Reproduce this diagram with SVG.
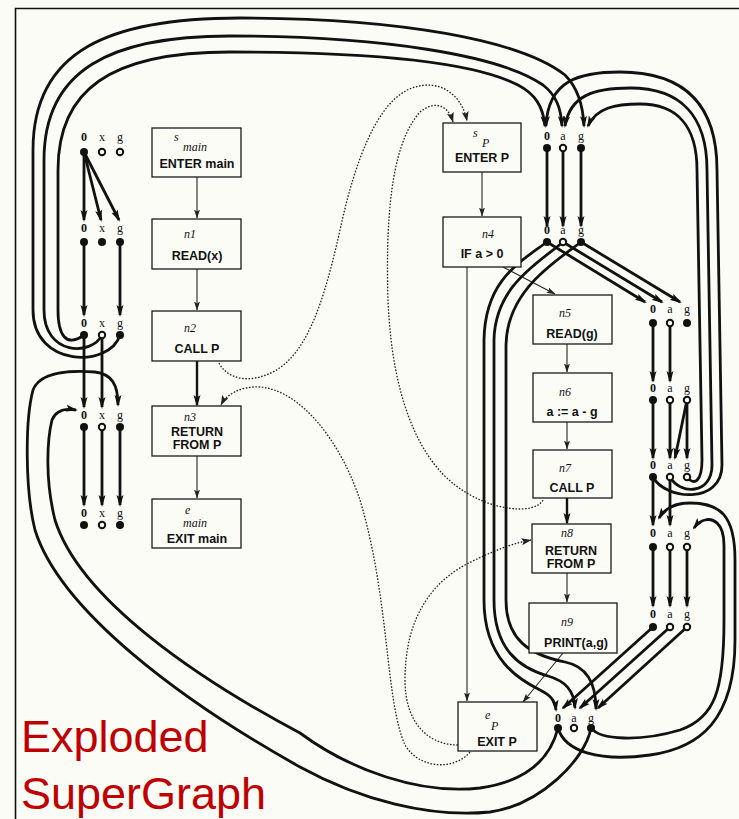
<svg xmlns="http://www.w3.org/2000/svg" width="739" height="819" viewBox="0 0 739 819">
<style>
.bg{fill:#fcfcf7}
.box{fill:#fcfcf7;stroke:#1a1a1a;stroke-width:1.3}
.bt{font-family:"Liberation Sans",Arial,sans-serif;font-weight:bold;font-size:12.5px;fill:#111;text-anchor:middle}
.it{font-family:"Liberation Serif","Times New Roman",serif;font-style:italic;font-size:12px;fill:#111}
.lb{font-family:"Liberation Serif","Times New Roman",serif;font-size:12px;fill:#111;text-anchor:middle}
.z{font-weight:bold}
.f{fill:#111}
.h{fill:#fcfcf7;stroke:#111;stroke-width:2}
.tk{fill:none;stroke:#111;stroke-width:2.8;marker-end:url(#ah)}
.tn{fill:none;stroke:#222;stroke-width:1.1;marker-end:url(#as)}
.tb{fill:none;stroke:#111;stroke-width:2.4;marker-end:url(#ah)}
.dt{fill:none;stroke:#222;stroke-width:1.3;stroke-dasharray:1.6 1.6;marker-end:url(#ad)}
.cap{font-family:"Liberation Sans",Arial,sans-serif;font-size:45px;fill:#c00000}
</style>
<defs>
<marker id="ah" viewBox="0 0 12 8" refX="10" refY="4" markerWidth="12" markerHeight="8" markerUnits="userSpaceOnUse" orient="auto"><path d="M0,0.5 L12,4 L0,7.5 L2.5,4z" fill="#111"/></marker>
<marker id="as" viewBox="0 0 9 6" refX="8.5" refY="3" markerWidth="9" markerHeight="6" markerUnits="userSpaceOnUse" orient="auto"><path d="M0,0 L9,3 L0,6 L2,3z" fill="#222"/></marker>
<marker id="ad" viewBox="0 0 10 7" refX="9.5" refY="3.5" markerWidth="10" markerHeight="7" markerUnits="userSpaceOnUse" orient="auto"><path d="M0,0 L10,3.5 L0,7 L2,3.5z" fill="#222"/></marker>
</defs>
<rect class="bg" x="0" y="0" width="739" height="819"/>
<path d="M15.5,819 L15.5,8.5 L739,8.5" fill="none" stroke="#111" stroke-width="1.6"/>

<g id="connectors">
<path class="tn" d="M197,177 L197,218"/>
<path class="tn" d="M197,269 L197,310"/>
<path class="tb" d="M197,361 L197,405"/>
<path class="tn" d="M197,456 L197,498"/>
<path class="tn" d="M482,172 L482,216"/>
<path class="tn" d="M503,267 L555,294"/>
<path class="tn" d="M467,267 L467,701"/>
<path class="tn" d="M567,344 L567,372"/>
<path class="tn" d="M567,422 L567,449"/>
<path class="tb" d="M567,498 L567,523"/>
<path class="tn" d="M567,573 L567,602"/>
<path class="tn" d="M563,653 L523,702"/>
<path class="dt" d="M219,363 C225,375 240,381 255,378 C300,370 320,320 340,230 C355,160 378,100 412,88 C440,78 462,95 467,121"/>
<path class="dt" d="M543,500 C535,515 490,512 455,485 C420,458 392,400 388,300 C385,200 395,140 420,112 C435,100 448,105 453,122"/>
<path class="dt" d="M470,752 C455,770 420,770 405,745 C385,700 390,600 360,500 C340,440 300,390 260,387 C240,386 226,395 221,405"/>
<path class="dt" d="M458,745 C430,745 405,725 405,680 C405,620 430,580 475,560 C500,548 515,543 531,540"/>
<path class="tk" d="M84,152 L84,220"/>
<path class="tk" d="M84,152 L101,220"/>
<path class="tk" d="M84,152 L119,220"/>
<path class="tk" d="M84,242 L84,315"/>
<path class="tk" d="M120,242 L120,315"/>
<path class="tk" d="M84,335 L84,407"/>
<path class="tk" d="M102,335 L102,407"/>
<path class="tk" d="M84,427 L84,505"/>
<path class="tk" d="M102,427 L102,505"/>
<path class="tk" d="M120,427 L120,505"/>
<path class="tk" d="M84,335 C66,348 58,335 58,310 L58,170 C58,90 110,52 230,52 C360,52 470,60 518,85 C535,94 543,106 545,126"/>
<path class="tk" d="M102,335 C92,356 44,356 44,310 L44,160 C44,70 110,36 230,36 C380,36 500,55 543,85 C556,95 561,108 562,126"/>
<path class="tk" d="M120,335 C110,368 33,368 33,310 L33,150 C33,50 110,18 240,18 C400,18 520,40 565,75 C578,88 583,105 584,126"/>
<path class="tk" d="M547,148 L547,226"/>
<path class="tk" d="M563,148 L563,226"/>
<path class="tk" d="M581,148 L581,226"/>
<path class="tk" d="M547,242 L645,302"/>
<path class="tk" d="M563,242 L662,302"/>
<path class="tk" d="M581,242 L680,302"/>
<path class="tk" d="M547,242 C520,262 485,280 484,340 L484,600 C484,660 520,680 540,690 C550,695 555,700 556,710"/>
<path class="tk" d="M563,242 C540,262 495,285 494,340 L494,600 C494,650 520,668 548,676 C565,681 574,690 575,708"/>
<path class="tk" d="M581,242 C555,262 507,290 506,345 L506,600 C506,640 530,655 565,662 C585,666 596,680 596,709"/>
<path class="tk" d="M653,323 L653,381"/>
<path class="tk" d="M670,323 L670,381"/>
<path class="tk" d="M653,400 L653,458"/>
<path class="tk" d="M670,400 L670,458"/>
<path class="tk" d="M687,400 L675,458"/>
<path class="tk" d="M687,400 L687,458"/>
<path class="tk" d="M653,477 L653,525"/>
<path class="tk" d="M670,477 L670,525"/>
<path class="tk" d="M653,547 L653,606"/>
<path class="tk" d="M670,547 L670,606"/>
<path class="tk" d="M687,547 L687,606"/>
<path class="tk" d="M653,627 L563,708"/>
<path class="tk" d="M670,627 L580,708"/>
<path class="tk" d="M687,627 L598,708"/>
<path class="tk" d="M653,477 C665,500 722,505 722,465 L717,170 C717,110 690,72 620,72 C580,72 548,80 546,126"/>
<path class="tk" d="M670,477 C680,495 712,495 712,465 L707,170 C707,115 680,88 630,88 C595,88 570,95 565,126"/>
<path class="tk" d="M687,477 C694,486 702,482 702,460 L697,170 C697,125 676,104 640,104 C615,104 596,108 588,126"/>
<path class="tk" d="M558,728 C565,752 600,762 650,755 C700,748 735,720 735,640 L735,560 C735,515 720,503 690,503 C675,503 665,508 659,518"/>
<path class="tk" d="M591,728 C600,740 640,742 680,730 C715,718 724,690 724,620 L724,545 C724,522 712,518 705,520 C700,521 697,524 694,528"/>
<path class="tk" d="M558,728 C552,752 535,780 480,788 C420,795 350,770 300,733 C200,680 80,600 55,520 C45,480 47,440 52,420 C56,410 65,408 76,410"/>
<path class="tk" d="M591,728 C585,760 540,805 490,812 C430,818 360,800 300,767 C180,700 60,610 35,530 C25,490 25,420 33,390 C40,372 70,370 95,372 C112,374 118,385 118,405"/>
</g>

<g id="smain"><rect class="box" x="152" y="128" width="89" height="49"/><text class="it" x="174" y="141">s</text><text class="it" x="183" y="151">main</text><text class="bt" x="197" y="168">ENTER main</text></g>
<g id="n1"><rect class="box" x="152" y="219" width="89" height="50"/><text class="it" x="184" y="238">n1</text><text class="bt" x="197" y="260">READ(x)</text></g>
<g id="n2"><rect class="box" x="152" y="311" width="89" height="50"/><text class="it" x="184" y="332">n2</text><text class="bt" x="197" y="353">CALL P</text></g>
<g id="n3"><rect class="box" x="152" y="406" width="89" height="50"/><text class="it" x="184" y="421">n3</text><text class="bt" x="197" y="436">RETURN</text><text class="bt" x="197" y="449">FROM P</text></g>
<g id="emain"><rect class="box" x="152" y="499" width="89" height="49"/><text class="it" x="185" y="514">e</text><text class="it" x="183" y="527">main</text><text class="bt" x="197" y="543">EXIT main</text></g>

<g id="sP"><rect class="box" x="443" y="123" width="78" height="49"/><text class="it" x="473" y="137">s</text><text class="it" x="482" y="147" font-size="14">P</text><text class="bt" x="482" y="162">ENTER P</text></g>
<g id="n4"><rect class="box" x="443" y="217" width="78" height="50"/><text class="it" x="482" y="238">n4</text><text class="bt" x="482" y="258">IF a &gt; 0</text></g>
<g id="n5"><rect class="box" x="533" y="295" width="79" height="49"/><text class="it" x="559" y="317">n5</text><text class="bt" x="572" y="338">READ(g)</text></g>
<g id="n6"><rect class="box" x="533" y="373" width="79" height="49"/><text class="it" x="559" y="396">n6</text><text class="bt" x="572" y="416">a := a - g</text></g>
<g id="n7"><rect class="box" x="533" y="450" width="79" height="48"/><text class="it" x="559" y="472">n7</text><text class="bt" x="572" y="492">CALL P</text></g>
<g id="n8"><rect class="box" x="532" y="524" width="79" height="49"/><text class="it" x="561" y="537">n8</text><text class="bt" x="571" y="555">RETURN</text><text class="bt" x="571" y="568">FROM P</text></g>
<g id="n9"><rect class="box" x="529" y="603" width="88" height="50"/><text class="it" x="561" y="626">n9</text><text class="bt" x="576" y="647">PRINT(a,g)</text></g>
<g id="eP"><rect class="box" x="458" y="702" width="79" height="49"/><text class="it" x="485" y="719">e</text><text class="it" x="491" y="730" font-size="14">P</text><text class="bt" x="497" y="746">EXIT P</text></g>

<g id="x-smain"><text class="lb z" x="84" y="141">0</text><text class="lb" x="102" y="141">x</text><text class="lb" x="120" y="141">g</text><circle class="f" cx="84" cy="152" r="4"/><circle class="h" cx="102" cy="152" r="3.2"/><circle class="h" cx="120" cy="152" r="3.2"/></g>
<g id="x-n1"><text class="lb z" x="84" y="232">0</text><text class="lb" x="102" y="232">x</text><text class="lb" x="120" y="232">g</text><circle class="f" cx="84" cy="242" r="4"/><circle class="f" cx="102" cy="242" r="4"/><circle class="f" cx="120" cy="242" r="4"/></g>
<g id="x-n2"><text class="lb z" x="84" y="327">0</text><text class="lb" x="102" y="327">x</text><text class="lb" x="120" y="327">g</text><circle class="f" cx="84" cy="335" r="4"/><circle class="h" cx="102" cy="335" r="3.2"/><circle class="f" cx="120" cy="335" r="4"/></g>
<g id="x-n3"><text class="lb z" x="84" y="419">0</text><text class="lb" x="102" y="419">x</text><text class="lb" x="120" y="419">g</text><circle class="f" cx="84" cy="427" r="4"/><circle class="h" cx="102" cy="427" r="3.2"/><circle class="f" cx="120" cy="427" r="4"/></g>
<g id="x-emain"><text class="lb z" x="84" y="517">0</text><text class="lb" x="102" y="517">x</text><text class="lb" x="120" y="517">g</text><circle class="f" cx="84" cy="525" r="4"/><circle class="h" cx="102" cy="525" r="3.2"/><circle class="f" cx="120" cy="525" r="4"/></g>

<g id="x-sP"><text class="lb z" x="547" y="140">0</text><text class="lb" x="563" y="140">a</text><text class="lb" x="581" y="140">g</text><circle class="f" cx="547" cy="148" r="4"/><circle class="h" cx="563" cy="148" r="3.2"/><circle class="f" cx="581" cy="148" r="4"/></g>
<g id="x-n4"><text class="lb z" x="547" y="234">0</text><text class="lb" x="563" y="234">a</text><text class="lb" x="581" y="234">g</text><circle class="f" cx="547" cy="242" r="4"/><circle class="h" cx="563" cy="242" r="3.2"/><circle class="f" cx="581" cy="242" r="4"/></g>
<g id="x-n5"><text class="lb z" x="653" y="313">0</text><text class="lb" x="670" y="313">a</text><text class="lb" x="687" y="313">g</text><circle class="f" cx="653" cy="323" r="4"/><circle class="h" cx="670" cy="323" r="3.2"/><circle class="f" cx="687" cy="323" r="4"/></g>
<g id="x-n6"><text class="lb z" x="653" y="392">0</text><text class="lb" x="670" y="392">a</text><text class="lb" x="687" y="392">g</text><circle class="f" cx="653" cy="400" r="4"/><circle class="h" cx="670" cy="400" r="3.2"/><circle class="h" cx="687" cy="400" r="3.2"/></g>
<g id="x-n7"><text class="lb z" x="653" y="469">0</text><text class="lb" x="670" y="469">a</text><text class="lb" x="687" y="469">g</text><circle class="f" cx="653" cy="477" r="4"/><circle class="h" cx="670" cy="477" r="3.2"/><circle class="h" cx="687" cy="477" r="3.2"/></g>
<g id="x-n8"><text class="lb z" x="653" y="537">0</text><text class="lb" x="670" y="537">a</text><text class="lb" x="687" y="537">g</text><circle class="f" cx="653" cy="547" r="4"/><circle class="h" cx="670" cy="547" r="3.2"/><circle class="h" cx="687" cy="547" r="3.2"/></g>
<g id="x-n9"><text class="lb z" x="653" y="618">0</text><text class="lb" x="670" y="618">a</text><text class="lb" x="687" y="618">g</text><circle class="f" cx="653" cy="627" r="4"/><circle class="h" cx="670" cy="627" r="3.2"/><circle class="h" cx="687" cy="627" r="3.2"/></g>
<g id="x-eP"><text class="lb z" x="558" y="722">0</text><text class="lb" x="574" y="722">a</text><text class="lb" x="591" y="722">g</text><circle class="f" cx="558" cy="728" r="4"/><circle class="h" cx="574" cy="728" r="3.2"/><circle class="f" cx="591" cy="728" r="4"/></g>

<text class="cap" x="21" y="752">Exploded</text>
<text class="cap" x="21" y="809">SuperGraph</text>
</svg>
